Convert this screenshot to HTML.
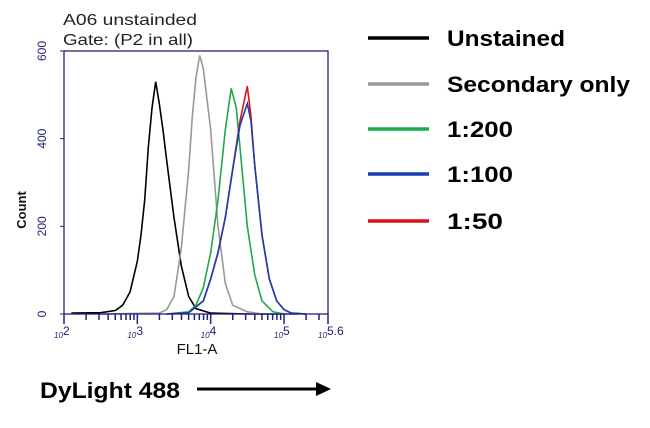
<!DOCTYPE html>
<html><head><meta charset="utf-8"><style>
body{margin:0;background:#fff;width:650px;height:423px;overflow:hidden;font-family:"Liberation Sans",sans-serif}
</style></head><body>
<svg id="chart" width="650" height="423" viewBox="0 0 650 423" xmlns="http://www.w3.org/2000/svg">
<rect width="650" height="423" fill="#fff"/>
<text x="63" y="25" font-size="16" fill="#222" textLength="134" lengthAdjust="spacingAndGlyphs">A06 unstainded</text>
<text x="63" y="45" font-size="16" fill="#222" textLength="130" lengthAdjust="spacingAndGlyphs">Gate: (P2 in all)</text>
<g id="curves"></g>
<rect x="64" y="51" width="264" height="263" fill="none" stroke="#22227a" stroke-width="1.3"/>
<g id="axes"></g>
<text transform="translate(26,210) rotate(-90)" text-anchor="middle" font-size="13" font-weight="bold" fill="#111">Count</text>
<text x="197" y="354" text-anchor="middle" font-size="15" fill="#111">FL1-A</text>
<g id="legend"></g>
<text x="40" y="398" font-size="22" font-weight="bold" fill="#000" textLength="140" lengthAdjust="spacingAndGlyphs">DyLight 488</text>
<line x1="197" y1="389" x2="320" y2="389" stroke="#000" stroke-width="3"/>
<polygon points="331,389 316,382 316,396" fill="#000"/>
</svg>
<script>
const seriesNames=["Unstained","Secondary only","1:200","1:100","1:50"];
const seriesColors=["#000000","#999999","#1faa4a","#1a3fb4","#d9141b"];
const xLog_unstained=[2.1,2.5,2.7,2.8,2.9,3.0,3.05,3.1,3.15,3.2,3.25,3.3,3.35,3.4,3.5,3.6,3.7,3.8,4.0,4.5,5.0];
const y_unstained=[2,3,8,20,50,120,180,260,380,470,530,480,420,350,220,110,40,12,2,0,0];
const xLog_secondary=[2.5,3.3,3.4,3.5,3.6,3.7,3.75,3.8,3.85,3.9,4.0,4.1,4.2,4.3,4.5,4.7,5.0];
const y_secondary=[0,2,10,40,150,330,450,540,590,560,420,200,70,20,5,0,0];
const xLog_g200=[3.4,3.7,3.8,3.9,4.0,4.1,4.2,4.28,4.35,4.4,4.5,4.6,4.7,4.85,5.0,5.2];
const y_g200=[0,5,20,60,140,260,420,515,470,380,200,90,30,5,0,0];
const xLog_b100=[3.4,3.7,3.9,4.0,4.1,4.2,4.3,4.4,4.5,4.55,4.6,4.7,4.8,4.9,5.0,5.1,5.3];
const y_b100=[0,3,30,80,140,220,330,430,480,440,340,180,80,30,10,2,0];
const xLog_r50=[3.4,3.7,3.9,4.0,4.1,4.2,4.3,4.4,4.5,4.55,4.6,4.7,4.8,4.9,5.0,5.1,5.3];
const y_r50=[0,3,30,80,140,220,330,440,520,450,340,180,80,30,10,2,0];
const yTicks=[0,200,400,600];
const xTickLabels=["2","3","4","5","5.6"];
const xTickVals=[2,3,4,5,5.6];

const NS="http://www.w3.org/2000/svg";
const X=v=>64+(v-2)*(264/3.6);
const Y=v=>314-v*(263/600);
function mk(t,a,p){const e=document.createElementNS(NS,t);for(const k in a)e.setAttribute(k,a[k]);p.appendChild(e);return e;}
const curves=document.getElementById('curves');
const allX=[xLog_unstained,xLog_secondary,xLog_g200,xLog_b100,xLog_r50];
const allY=[y_unstained,y_secondary,y_g200,y_b100,y_r50];
const order=[0,1,2,4,3];
order.forEach(i=>{
  const pts=allX[i].map((v,j)=>X(v).toFixed(1)+","+Y(allY[i][j]).toFixed(1)).join(" ");
  const pl=mk('polyline',{points:pts,fill:"none",stroke:seriesColors[i],"stroke-width":"1.6"},curves);
  
  
});
const axes=document.getElementById('axes');
yTicks.forEach(t=>{
  const ln=mk('line',{x1:60,x2:64,y1:Y(t),y2:Y(t),stroke:"#22227a"},axes);
  
  
  const tx=mk('text',{transform:`translate(46,${Y(t)}) rotate(-90)`,"text-anchor":"middle","font-size":"12",fill:"#22227a"},axes);
  tx.textContent=t;
  
  
});
for(let d=2;d<6;d++){for(let m=1;m<10;m++){const v=d+Math.log10(m);if(v>5.6)break;
  const ln=mk('line',{x1:X(v),x2:X(v),y1:314,y2:m==1?324:320,stroke:"#22227a","stroke-width":"1.5"},axes);
  
  }}
mk('line',{x1:X(5.6),x2:X(5.6),y1:314,y2:324,stroke:"#22227a","stroke-width":"1.5"},axes);
xTickVals.forEach((v,i)=>{
  const tx=mk('text',{x:X(v)-10,y:338,"font-size":"8","font-style":"italic",fill:"#22227a"},axes);
  tx.textContent="10";
  
  
  const sp=mk('text',{x:X(v)-1,y:335,"font-size":"12",fill:"#22227a"},axes);
  sp.textContent=xTickLabels[i];
  
  
});
const legend=document.getElementById('legend');
const legY=[38,84,129,174,221];
const legLen=[118,183,66,66,56];
seriesNames.forEach((n,i)=>{
  const ln=mk('line',{x1:368,x2:429,y1:legY[i],y2:legY[i],stroke:seriesColors[i],"stroke-width":"3.5"},legend);
  
  
  const tx=mk('text',{x:447,y:legY[i]+8,"font-size":"22","font-weight":"bold",fill:"#000",textLength:legLen[i],lengthAdjust:"spacingAndGlyphs"},legend);
  tx.textContent=n;
  
  
});
</script>
</body></html>
